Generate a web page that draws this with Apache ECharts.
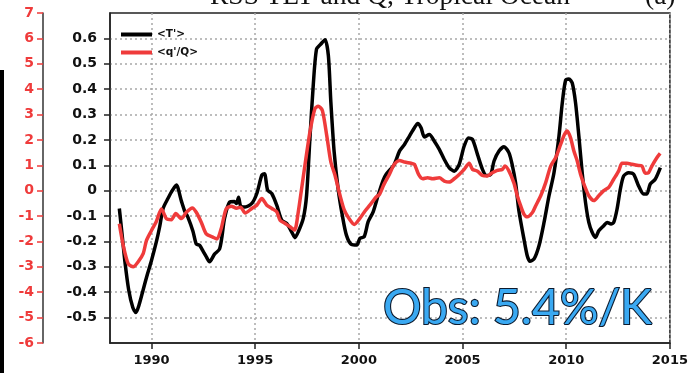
<!DOCTYPE html>
<html>
<head>
<meta charset="utf-8">
<script src="https://cdn.jsdelivr.net/npm/echarts@6/dist/echarts.min.js"></script>
<style>
  html, body { margin: 0; padding: 0; background: #fff; }
  #chart { width: 691px; height: 373px; }
</style>
</head>
<body>
<div id="chart"></div>
<script>
// Tropical-ocean anomalies: TLT temperature <T'> (K) and column water vapour <q'/Q> (%)
const tYears = [1988.45, 1988.58, 1988.72, 1988.9, 1989.1, 1989.25, 1989.4, 1989.6, 1989.8, 1990.0,
  1990.24, 1990.4, 1990.56, 1990.8, 1991.0, 1991.2, 1991.44, 1991.6, 1991.76, 1992.0,
  1992.16, 1992.32, 1992.5, 1992.64, 1992.8, 1993.04, 1993.28, 1993.4, 1993.52, 1993.76,
  1994.0, 1994.1, 1994.2, 1994.3, 1994.52, 1994.84, 1995.08, 1995.32, 1995.45, 1995.6,
  1995.8, 1996.04, 1996.28, 1996.52, 1996.76, 1996.92, 1997.08, 1997.32, 1997.48, 1997.64,
  1997.8, 1997.96, 1998.17, 1998.37, 1998.53, 1998.65, 1998.81, 1999.0, 1999.2, 1999.4,
  1999.65, 1999.9, 2000.05, 2000.26, 2000.45, 2000.69, 2000.93, 2001.17, 2001.31, 2001.71,
  2001.96, 2002.2, 2002.44, 2002.68, 2002.84, 2003.0, 2003.16, 2003.4, 2003.64, 2003.88,
  2004.12, 2004.36, 2004.6, 2004.84, 2005.08, 2005.29, 2005.48, 2005.72, 2005.96, 2006.15,
  2006.36, 2006.52, 2006.76, 2007.0, 2007.24, 2007.4, 2007.56, 2007.72, 2007.96, 2008.12,
  2008.25, 2008.45, 2008.69, 2008.93, 2009.17, 2009.41, 2009.65, 2009.81, 2009.97, 2010.13,
  2010.29, 2010.45, 2010.61, 2010.77, 2010.93, 2011.09, 2011.25, 2011.41, 2011.57, 2011.81,
  2011.97, 2012.16, 2012.29, 2012.45, 2012.61, 2012.77, 2013.01, 2013.25, 2013.49, 2013.73,
  2013.89, 2014.05, 2014.29, 2014.54];
const tValues = [-0.07, -0.17, -0.28, -0.39, -0.46, -0.48, -0.45, -0.39, -0.33, -0.275,
  -0.20, -0.14, -0.07, -0.03, 0.0, 0.022, -0.04, -0.08, -0.105, -0.16,
  -0.21, -0.215, -0.24, -0.26, -0.28, -0.25, -0.23, -0.18, -0.11, -0.046,
  -0.043, -0.05, -0.026, -0.06, -0.064, -0.05, -0.011, 0.061, 0.067, 0.002,
  -0.011, -0.057, -0.116, -0.129, -0.162, -0.185, -0.162, -0.109, -0.018, 0.205,
  0.414, 0.558, 0.578, 0.595, 0.532, 0.349, 0.152, 0.008, -0.096, -0.175,
  -0.212, -0.214, -0.188, -0.181, -0.122, -0.083, -0.018, 0.041, 0.064, 0.104,
  0.156, 0.182, 0.215, 0.248, 0.265, 0.248, 0.212, 0.221, 0.195, 0.163,
  0.123, 0.09, 0.077, 0.104, 0.176, 0.208, 0.202, 0.143, 0.084, 0.06,
  0.064, 0.117, 0.156, 0.173, 0.149, 0.10, 0.03, -0.08, -0.19, -0.256,
  -0.278, -0.269, -0.216, -0.125, -0.02, 0.071, 0.215, 0.346, 0.435, 0.44,
  0.424, 0.346, 0.215, 0.071, -0.046, -0.125, -0.164, -0.184, -0.158, -0.138,
  -0.125, -0.131, -0.125, -0.073, 0.006, 0.058, 0.071, 0.065, 0.019, -0.013,
  -0.013, 0.026, 0.045, 0.091];

const qYears = [1988.45, 1988.64, 1988.88, 1989.12, 1989.36, 1989.6, 1989.76, 1990.0, 1990.24, 1990.48,
  1990.72, 1990.96, 1991.17, 1991.44, 1991.68, 1991.97, 1992.16, 1992.4, 1992.64, 1992.96,
  1993.16, 1993.36, 1993.6, 1993.85, 1994.1, 1994.3, 1994.52, 1994.84, 1995.08, 1995.32,
  1995.56, 1995.8, 1996.04, 1996.2, 1996.44, 1996.68, 1996.9, 1997.08, 1997.24, 1997.4,
  1997.64, 1997.88, 1998.04, 1998.24, 1998.45, 1998.65, 1998.85, 1999.09, 1999.3, 1999.52,
  1999.78, 2000.05, 2000.29, 2000.53, 2000.85, 2001.0, 2001.2, 2001.47, 2001.71, 2001.96,
  2002.2, 2002.52, 2002.68, 2002.88, 2003.08, 2003.32, 2003.56, 2003.88, 2004.12, 2004.36,
  2004.6, 2004.84, 2005.08, 2005.32, 2005.48, 2005.72, 2005.96, 2006.2, 2006.44, 2006.68,
  2006.92, 2007.05, 2007.24, 2007.48, 2007.64, 2007.8, 2007.96, 2008.12, 2008.37, 2008.53,
  2008.77, 2009.01, 2009.25, 2009.49, 2009.73, 2009.92, 2010.05, 2010.21, 2010.37, 2010.53,
  2010.69, 2010.88, 2011.09, 2011.33, 2011.57, 2011.81, 2012.05, 2012.29, 2012.53, 2012.69,
  2012.93, 2013.17, 2013.41, 2013.65, 2013.81, 2013.97, 2014.13, 2014.37, 2014.53];
const qValues = [-1.3, -2.16, -2.88, -3.0, -2.8, -2.48, -1.96, -1.57, -1.2, -0.72,
  -1.1, -1.14, -0.9, -1.1, -0.85, -0.68, -0.85, -1.24, -1.7, -1.83,
  -1.9, -1.5, -0.72, -0.61, -0.69, -0.65, -0.88, -0.7, -0.57, -0.31,
  -0.57, -0.7, -0.83, -1.16, -1.29, -1.42, -1.55, -0.83, 0.08, 1.0,
  2.31, 3.23, 3.33, 3.16, 2.18, 1.13, 0.61, -0.18, -0.77, -1.09,
  -1.33, -1.09, -0.81, -0.57, -0.24, -0.14, 0.23, 0.64, 1.04, 1.19,
  1.13, 1.08, 1.04, 0.64, 0.47, 0.51, 0.47, 0.51, 0.38, 0.34,
  0.47, 0.64, 0.84, 1.08, 0.84, 0.77, 0.6, 0.58, 0.71, 0.8,
  0.84, 0.97, 0.77, 0.3, -0.2, -0.59, -0.92, -1.03, -0.86, -0.59,
  -0.2, 0.32, 0.97, 1.3, 1.82, 2.22, 2.35, 2.08, 1.56, 1.17,
  0.65, 0.2, -0.2, -0.39, -0.2, 0.0, 0.13, 0.45, 0.78, 1.08,
  1.08, 1.04, 1.0, 0.97, 0.69, 0.71, 0.97, 1.3, 1.47];

const yearTicks = [1990, 1995, 2000, 2005, 2010, 2015];
const tTicks = [-0.5, -0.4, -0.3, -0.2, -0.1, 0, 0.1, 0.2, 0.3, 0.4, 0.5, 0.6];
const seriesNames = ["<T'>", "<q'/Q>"];
const titleText = 'RSS TLT and Q, Tropical Ocean';
const panelTag = '(a)';
const slopeText = 'Obs: 5.4%/K';

const BLACK = '#000000';
const RED = '#ef3b3b';
const GRID_DOT = { type: [2, 3], color: '#a8a8a8', width: 1.5 };
const LABEL_FONT = 'DejaVu Sans';

const chart = echarts.init(document.getElementById('chart'), null, { renderer: 'canvas' });

chart.setOption({
  animation: false,
  backgroundColor: '#ffffff',
  grid: {
    left: 110, right: 19, top: 13, bottom: 30,
    show: true, borderColor: '#222', borderWidth: 1.5, containLabel: false
  },
  legend: {
    data: seriesNames,
    orient: 'vertical',
    left: 116, top: 24,
    itemWidth: 31, itemHeight: 4, itemGap: 7,
    icon: 'rect',
    textStyle: { fontFamily: LABEL_FONT, fontWeight: 'bold', fontSize: 10.5, color: '#111' }
  },
  xAxis: {
    type: 'value', min: 1988, max: 2015,
    axisLine: { show: true, onZero: false, lineStyle: { color: '#222', width: 1.5 } },
    axisTick: { show: true, length: 6, customValues: yearTicks, lineStyle: { color: '#222', width: 1.5 } },
    axisLabel: {
      customValues: yearTicks, margin: 11,
      fontFamily: LABEL_FONT, fontWeight: 'bold', fontSize: 13, color: '#111',
      formatter: v => String(Math.round(v))
    },
    splitLine: { show: true, lineStyle: GRID_DOT }
  },
  yAxis: [
    {
      type: 'value', min: -0.6, max: 0.7, position: 'left',
      axisLine: { show: true, lineStyle: { color: '#222', width: 1.5 } },
      axisTick: { show: true, length: 6, customValues: tTicks, lineStyle: { color: '#222', width: 1.5 } },
      axisLabel: {
        customValues: tTicks, margin: 13,
        fontFamily: LABEL_FONT, fontWeight: 'bold', fontSize: 14, color: '#111',
        formatter: v => (Math.abs(v) < 1e-9 ? '0' : (+v).toFixed(1))
      },
      splitLine: { show: true, lineStyle: GRID_DOT }
    },
    {
      type: 'value', min: -6, max: 7, interval: 1, position: 'left', offset: 67,
      axisLine: { show: true, lineStyle: { color: '#333', width: 1.5 } },
      axisTick: { show: true, length: 6, lineStyle: { color: RED, width: 1.5 } },
      axisLabel: {
        margin: 9, showMinLabel: true, showMaxLabel: true,
        fontFamily: LABEL_FONT, fontWeight: 'bold', fontSize: 14, color: RED
      },
      splitLine: { show: false }
    }
  ],
  series: [
    {
      name: seriesNames[0], type: 'line', yAxisIndex: 0,
      data: tYears.map((y, i) => [y, tValues[i]]),
      showSymbol: false, symbol: 'none', smooth: 0.25,
      color: BLACK, lineStyle: { color: BLACK, width: 3.5 }, z: 3
    },
    {
      name: seriesNames[1], type: 'line', yAxisIndex: 1,
      data: qYears.map((y, i) => [y, qValues[i]]),
      showSymbol: false, symbol: 'none', smooth: 0.25,
      color: RED, lineStyle: { color: RED, width: 3.5 }, z: 4
    }
  ],
  graphic: [
    { type: 'rect', left: 0, top: 70, shape: { width: 4, height: 303 }, style: { fill: '#000' }, silent: true },
    { type: 'text', x: 210, y: 11, style: { text: titleText, font: '27.5px "Liberation Serif"', fill: '#111', verticalAlign: 'bottom', align: 'left' }, silent: true },
    { type: 'text', x: 645, y: 11, style: { text: panelTag, font: '27.5px "Liberation Serif"', fill: '#111', verticalAlign: 'bottom', align: 'left' }, silent: true },
    {
      type: 'text', x: 383, y: 309, z: 10,
      style: {
        text: slopeText, font: '48px Lato', fill: '#3aa9f2',
        stroke: '#0d1b2e', lineWidth: 2.2, verticalAlign: 'middle', align: 'left'
      },
      silent: true
    }
  ]
});
</script>
</body>
</html>
